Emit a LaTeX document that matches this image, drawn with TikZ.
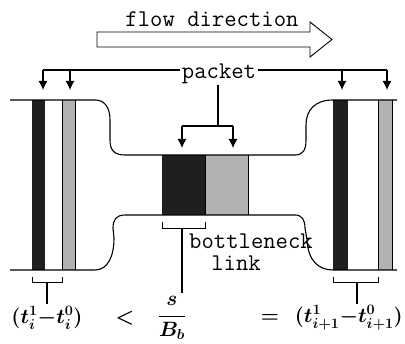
\documentclass[tikz,border=0pt]{standalone}
\usepackage{fontspec}
\usetikzlibrary{arrows.meta}
\tikzset{
  lbl/.style={font=\ttfamily\fontsize{24}{26}\selectfont, inner sep=0.5pt},
  mth/.style={font=\fontsize{21}{24}\selectfont\boldmath, inner sep=1pt},
  mths/.style={font=\fontsize{20}{24}\selectfont\boldmath, inner sep=1pt},
  ln/.style={line width=1.1pt},
  arr/.style={line width=1.1pt, -{Latex[length=9pt,width=9pt]}},
}
\begin{document}
\begin{tikzpicture}[x=1pt,y=-1pt]
\useasboundingbox (0,0) rectangle (405,344);
% flow arrow
\node[lbl] (flow) at (212,19) {flow direction};
\draw[line width=0.9pt] (97,32) -- (310,32) -- (310,22) -- (332,39.5) -- (310,57) -- (310,47) -- (97,47) -- cycle;
% packet label
\node[lbl, inner sep=2pt] (packet) at (219,74) {packet};
\coordinate (pl) at (43,70);
\coordinate (pl2) at (70,70);
\coordinate (pr) at (387,70);
\coordinate (pr2) at (342,70);
\draw[ln] (pl -| packet.west) -- (pl);
\draw[ln] (pr -| packet.east) -- (pr);
\draw[arr] (pl) -- (43,90);
\draw[arr] (pl2) -- (70,90);
\draw[arr] (pr2) -- (342,90);
\draw[arr] (pr) -- (387,90);
\coordinate (pm) at (218,126);
\draw[ln] (218,85) -- (pm);
\draw[ln] (182,126) -- (233,126);
\draw[arr] (182,126) -- (182,148);
\draw[arr] (233,126) -- (233,148);
% bars in wide parts
\fill[black!88] (32,100) rectangle (45,270);
\fill[black!30] (62,100) rectangle (75,270);
\draw[line width=0.6pt] (62,100) -- (62,270) (75,100) -- (75,270);
\fill[black!88] (333,100) rectangle (348,270);
\fill[black!30] (378,100) rectangle (392,270);
\draw[line width=0.6pt] (378,100) -- (378,270) (392,100) -- (392,270);
% bottleneck boxes
\fill[black!88] (162,155) rectangle (205,215);
\fill[black!30] (205,155) rectangle (248,215);
\draw[line width=0.6pt] (205,155) -- (205,215) (248,155) -- (248,215);
% pipe outline
\draw[ln] (10,100) -- (95,100) .. controls (105,100) and (110,108) .. (110,120) -- (110,140)
  .. controls (110,150) and (114,155) .. (125,155) -- (295,155)
  .. controls (303,155) and (306,150) .. (306,140) -- (306,125)
  .. controls (306,110) and (315,100) .. (333,100) -- (397,100);
\draw[ln] (10,270) -- (95,270) .. controls (108,270) and (114,256) .. (114,238) -- (113,228)
  .. controls (113,220) and (116,215) .. (125,215) -- (295,215)
  .. controls (302,215) and (305,220) .. (305,228) -- (307,240)
  .. controls (308,260) and (318,270) .. (333,270) -- (397,270);
% brackets
\draw[line width=0.9pt] (32,277) -- (32,282) -- (62,282) -- (62,277);
\draw[line width=0.9pt] (333,277) -- (333,282) -- (378,282) -- (378,277);
\draw[line width=0.9pt] (162,222) -- (162,228) -- (205,228) -- (205,222);
% formulas
\node[mth] (f1) at (47,318) {$(t_i^1 {-} t_i^0)$};
\node[mth] (lt) at (125,318) {$<$};
\node[mth] (f2) at (172,318) {$\displaystyle\frac{s}{B_b}$};
\node[mth] (eq) at (270,318) {$=$};
\node[mths, anchor=east] (f3) at (404,318) {$(t_{i+1}^1 {-} t_{i+1}^0)$};
\draw[ln] (47,282) -- (47,304);
\draw[ln] (357,282) -- (357,304);
\draw[ln] (182,228) -- (182,293);
% bottleneck label
\node[lbl] (bn) at (251,241) {bottleneck};
\node[lbl] (lk) at (236,263) {link};
\end{tikzpicture}
\end{document}
